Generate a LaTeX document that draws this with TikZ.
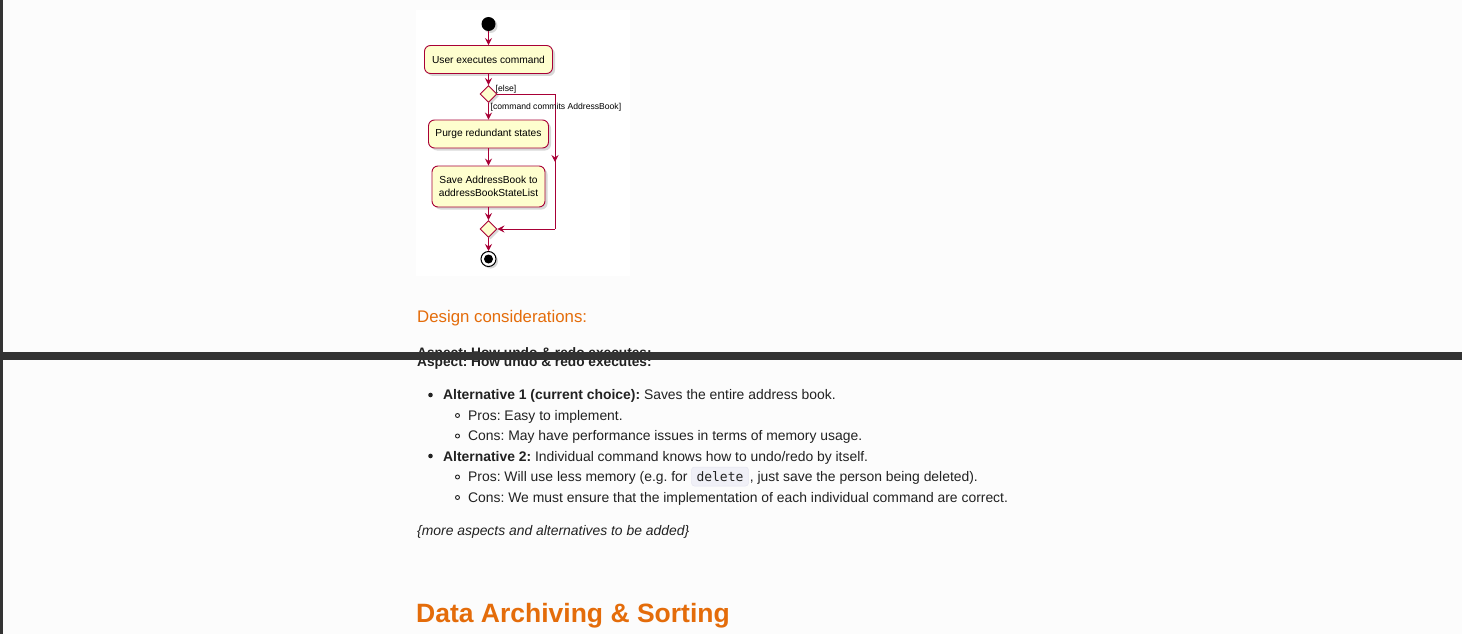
\documentclass[tikz,border=0pt]{standalone}
\usepackage{fontspec}
\setmainfont{Liberation Sans}
\setmonofont{DejaVu Sans Mono}
\usetikzlibrary{shapes.geometric,arrows.meta,shadows}
\frenchspacing
\definecolor{pagebg}{HTML}{FCFCFC}
\definecolor{barcol}{HTML}{333333}
\definecolor{umlred}{HTML}{A80036}
\definecolor{umlfill}{HTML}{FEFECE}
\definecolor{orangehd}{HTML}{E46C0A}
\definecolor{txt}{HTML}{222222}
\definecolor{codebg}{HTML}{F0F0F7}
\definecolor{codeborder}{HTML}{E6E6F0}
\tikzset{
  actbox/.style={rectangle, rounded corners=6pt, draw=umlred, fill=umlfill, line width=0.9pt,
    inner sep=0pt, align=center, font=\fontsize{10.2}{13}\selectfont,
    drop shadow={shadow xshift=2.5pt, shadow yshift=-2.5pt, opacity=0.3}},
  decbox/.style={diamond, draw=umlred, fill=umlfill, line width=0.9pt, inner sep=0pt,
    minimum width=17pt, minimum height=17pt,
    drop shadow={shadow xshift=2pt, shadow yshift=-2pt, opacity=0.3}},
  flow/.style={draw=umlred, line width=0.9pt, -{Stealth[length=7pt,width=7pt,inset=2.5pt]}},
  plainflow/.style={draw=umlred, line width=0.9pt},
  guard/.style={font=\fontsize{8.6}{10}\selectfont, inner sep=0pt, anchor=west},
  body/.style={font=\fontsize{13.9}{16}\selectfont, text=txt, inner sep=0pt, anchor=base west},
  codebox/.style={fill=codebg, draw=codeborder, line width=0.5pt, rounded corners=3pt,
    inner xsep=5pt, inner ysep=0pt, text height=14pt, text depth=5pt, anchor=base west,
    text=txt, font=\ttfamily\fontsize{13}{15}\selectfont},
}
\begin{document}
\begin{tikzpicture}[x=1pt,y=-1pt]
\useasboundingbox (0,0) rectangle (1462,634);
\fill[pagebg] (0,0) rectangle (1462,634);
% left dark edge
\fill[barcol] (0,0) rectangle (3,634);
% diagram panel
\fill[white] (416,10) rectangle (630,276);

% ---- activity diagram ----
\node[circle, fill=black, minimum size=14pt, inner sep=0pt,
  drop shadow={shadow xshift=2pt, shadow yshift=-2pt, opacity=0.3}] (start) at (488.5,24) {};
\node[actbox, minimum width=128pt, minimum height=28pt] (exec) at (488.5,59.5) {User executes command};
\node[decbox] (dec) at (488.5,94) {};
\node[actbox, minimum width=120pt, minimum height=28pt] (purge) at (488.5,134) {Purge redundant states};
\node[actbox, minimum width=113pt, minimum height=41pt] (save) at (488.5,186.5) {Save AddressBook to\\addressBookStateList};
\node[decbox] (merge) at (488.5,229) {};
\node[circle, draw=black, fill=white, line width=1pt, minimum size=15pt, inner sep=0pt,
  drop shadow={shadow xshift=2pt, shadow yshift=-2pt, opacity=0.3}] (stop) at (488.5,259) {};
\node[circle, fill=black, minimum size=9pt, inner sep=0pt] (stopdot) at (stop.center) {};

\coordinate (c1) at (555,94);
\coordinate (cm) at (555,162);
\coordinate (c2) at (555,229);

\draw[flow] (start) -- (exec);
\draw[flow] (exec) -- (dec);
\draw[flow] (dec) -- (purge);
\draw[flow] (purge) -- (save);
\draw[flow] (save) -- (merge);
\draw[flow] (merge) -- (stop);
\draw[plainflow] (dec.east) -- (c1) -- (c2);
\draw[flow] (c1) -- (cm);
\draw[flow] (c2) -- (merge.east);

\node[guard] (elselbl) at (495.5,89) {[else]};
\node[guard] (cmdlbl) at (490.5,107) {[command commits AddressBook]};

% ---- page text ----
\node[anchor=base west, inner sep=0pt, text=orangehd, font=\fontsize{16.8}{20}\selectfont] (design) at (417,322) {Design considerations:};

\node[body, font=\fontsize{13.7}{16}\selectfont\bfseries] (aspA) at (417,357) {Aspect: How undo \& redo executes:};
\node[body, font=\fontsize{13.7}{16}\selectfont\bfseries] (aspB) at (417,366) {Aspect: How undo \& redo executes:};
\fill[barcol] (0,351.5) rectangle (1462,359.5);

% bullets
\fill[txt] (430.5,395) circle (2.3pt);
\fill[txt] (430.5,456) circle (2.3pt);
\draw[txt, line width=0.9pt] (457.5,415.5) circle (2pt);
\draw[txt, line width=0.9pt] (457.5,436) circle (2pt);
\draw[txt, line width=0.9pt] (457.5,477) circle (2pt);
\draw[txt, line width=0.9pt] (457.5,497.5) circle (2pt);

\node[body] (l1) at (443,399) {\textbf{Alternative 1 (current choice):} Saves the entire address book.};
\node[body] (l2) at (468,420) {Pros: Easy to implement.};
\node[body] (l3) at (468,440) {Cons: May have performance issues in terms of memory usage.};
\node[body] (l4) at (443,461) {\textbf{Alternative 2:} Individual command knows how to undo/redo by itself.};
\node[body] (l5a) at (468,481) {Pros: Will use less memory (e.g. for};
\node[codebox] (code) at ([xshift=3.5pt]l5a.base east) {delete};
\node[body] (l5b) at ([xshift=1pt]code.base east) {, just save the person being deleted).};
\node[body] (l6) at (468,502) {Cons: We must ensure that the implementation of each individual command are correct.};

\node[body, font=\fontsize{13.9}{16}\selectfont\itshape] (more) at (417,535) {\{more aspects and alternatives to be added\}};

\node[anchor=base west, inner sep=0pt, text=orangehd, font=\fontsize{26.5}{32}\selectfont\bfseries] (data) at (416,622.5) {Data Archiving \& Sorting};
\end{tikzpicture}
\end{document}
